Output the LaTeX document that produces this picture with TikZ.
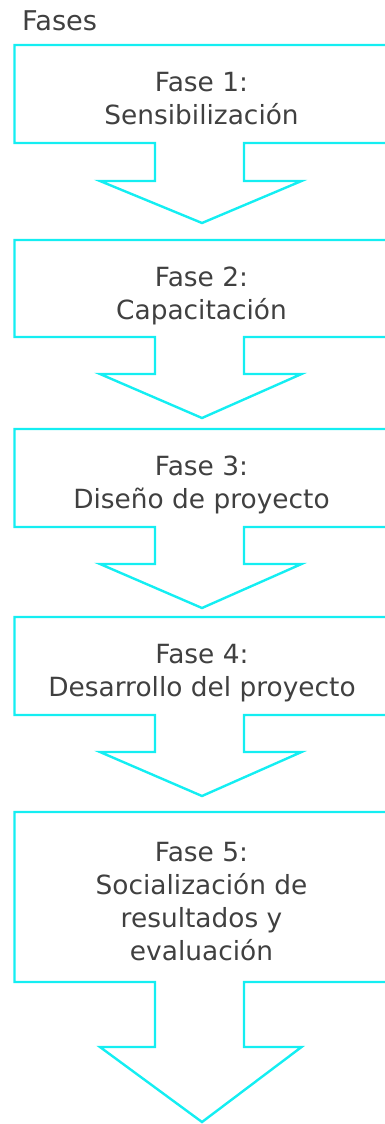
\documentclass[tikz,border=0pt]{standalone}
\usepackage{fontspec}
\setmainfont{DejaVu Sans}
\definecolor{cy}{RGB}{20,238,242}
\definecolor{tx}{RGB}{64,64,64}
\tikzset{
  calloutshape/.style={draw=cy, line width=2.4pt, line join=miter},
  lbl/.style={text=tx, inner sep=0pt, font=\fontsize{26.4}{33}\selectfont, anchor=base}
}
% #1 top, #2 box bottom, #3 stem bottom, #4 tip
\newcommand\phaseshape[4]{%
  \draw[calloutshape] (14.5,#1) -- (392,#1) -- (392,#2) -- (244,#2) -- (244,#3) -- (301.5,#3)
    -- (202,#4) -- (100,#3) -- (155,#3) -- (155,#2) -- (14.5,#2) -- cycle;}
\begin{document}
\begin{tikzpicture}[x=1pt,y=-1pt]
\useasboundingbox (0,0) rectangle (385,1124);
\clip (0,0) rectangle (385,1124);
\node[lbl, anchor=base west, font=\fontsize{27.2}{33}\selectfont] (title) at (22,30.7) {Fases};

\phaseshape{45}{143}{181}{223}
\phaseshape{240}{337}{374}{418}
\phaseshape{429}{527}{564}{608}
\phaseshape{617}{715}{752}{796}
\phaseshape{812}{982}{1047}{1122}

\node[lbl] (f1) at (201.5,91) {\begin{tabular}[t]{@{}c@{}}Fase 1:\\Sensibilización\end{tabular}};
\node[lbl] (f2) at (201.5,286) {\begin{tabular}[t]{@{}c@{}}Fase 2:\\Capacitación\end{tabular}};
\node[lbl] (f3) at (201.5,475) {\begin{tabular}[t]{@{}c@{}}Fase 3:\\Diseño de proyecto\end{tabular}};
\node[lbl] (f4) at (202,663) {\begin{tabular}[t]{@{}c@{}}Fase 4:\\Desarrollo del proyecto\end{tabular}};
\node[lbl] (f5) at (201.5,861) {\begin{tabular}[t]{@{}c@{}}Fase 5:\\Socialización de\\resultados y\\evaluación\end{tabular}};
\end{tikzpicture}
\end{document}
